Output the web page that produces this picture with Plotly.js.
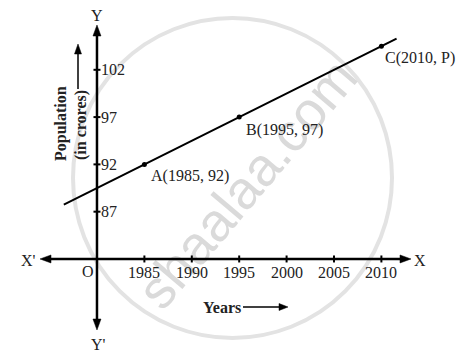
<!DOCTYPE html>
<html><head><meta charset="utf-8">
<script src="https://cdn.plot.ly/plotly-3.0.1.min.js"></script>
<style>html,body{margin:0;padding:0;background:#fff}</style>
</head><body><div id="chart" style="width:467px;height:358px"></div>
<script>
// ---- data ----
const xTicks = [1985, 1990, 1995, 2000, 2005, 2010];
const xTickLabels = ['1985', '1990', '1995', '2000', '2005', '2010'];
const yTicks = [87, 92, 97, 102];
const yTickLabels = ['87', '92', '97', '102'];
const pointYears = [1985, 1995, 2010];
const pointPops = [92, 97, 104.5];
const pointLabels = ['A(1985, 92)', 'B(1995, 97)', 'C(2010, P)'];
const lineYears = [1976.5, 2011.6];
const linePops = [87.75, 105.3];
const origin = [1980, 82];

// ---- geometry ----
const W = 467, H = 358;
const X0 = 1969.77, X1 = 2019.03, Y0 = 71.53, Y1 = 109.38;
const kx = W / (X1 - X0), ky = H / (Y1 - Y0);
const toPx = (x, y) => [(x - X0) * kx, (Y1 - y) * ky];
const toData = (px, py) => [X0 + px / kx, Y1 - py / ky];
const dx = px => px / kx, dy = py => py / ky;

const FONT = 'Liberation Serif, Times New Roman, serif';
const shapes = [];
const annotations = [];

// watermark (below everything)
shapes.push({type: 'circle', xref: 'paper', yref: 'paper', layer: 'below',
  x0: 73 / W, x1: 392 / W, y0: 1 - 338 / H, y1: 1 - 18 / H,
  line: {color: '#e3e3e3', width: 4}});
shapes.push({type: 'line', xref: 'paper', yref: 'paper', layer: 'below',
  x0: 140 / W, y0: 1 - 302 / H, x1: 346 / W, y1: 1 - 58 / H,
  line: {color: 'rgba(0,0,0,0)', width: 0},
  label: {text: 'shaalaa.com', textposition: 'middle', yanchor: 'middle', textangle: 'auto',
    font: {family: 'Liberation Sans, Arial, sans-serif', size: 54, color: '#dadada'}}});

function arrow(x0, y0, x1, y1, w, len, half) {
  const [p0x, p0y] = toPx(x0, y0), [p1x, p1y] = toPx(x1, y1);
  const L = Math.hypot(p1x - p0x, p1y - p0y);
  const ux = (p1x - p0x) / L, uy = (p1y - p0y) / L;
  const bx = p1x - ux * len, by = p1y - uy * len;
  const end = toData(bx + ux * 2, by + uy * 2);
  shapes.push({type: 'line', xref: 'x', yref: 'y', x0: x0, y0: y0, x1: end[0], y1: end[1],
    line: {color: '#000', width: w}});
  const a = toData(p1x, p1y), b = toData(bx - uy * half, by + ux * half), c = toData(bx + uy * half, by - ux * half);
  shapes.push({type: 'path', xref: 'x', yref: 'y',
    path: `M${a[0]},${a[1]} L${b[0]},${b[1]} L${c[0]},${c[1]} Z`,
    fillcolor: '#000', line: {color: '#000', width: 0.5}});
}

// axes
const [ox, oy] = origin;
arrow(ox, oy, toData(411, 0)[0], oy, 2.5, 11, 4);
arrow(ox, oy, toData(40, 0)[0], oy, 2.5, 11, 4);
arrow(ox, oy, ox, toData(0, 25)[1], 2.5, 11, 4);
arrow(ox, oy, ox, toData(0, 330)[1], 2.5, 11, 4);

// ticks
xTicks.forEach((t, i) => {
  shapes.push({type: 'line', xref: 'x', yref: 'y', x0: t, x1: t, y0: oy - dy(3.5), y1: oy + dy(3.5),
    line: {color: '#000', width: 2}});
  annotations.push({xref: 'x', yref: 'y', x: t, y: oy - dy(14), text: xTickLabels[i], showarrow: false,
    xanchor: 'center', yanchor: 'middle', font: {family: FONT, size: 16, color: '#222'}});
});
yTicks.forEach((t, i) => {
  shapes.push({type: 'line', xref: 'x', yref: 'y', x0: ox - dx(3.5), x1: ox + dx(3.5), y0: t, y1: t,
    line: {color: '#000', width: 2}});
  annotations.push({xref: 'x', yref: 'y', x: ox + dx(2), y: t, text: yTickLabels[i], showarrow: false,
    xanchor: 'left', yanchor: 'middle', font: {family: FONT, size: 16, color: '#222'}});
});

// point labels
const labelOffsets = [[5, 12], [5, 13], [2, 12]];
pointLabels.forEach((t, i) => {
  annotations.push({xref: 'x', yref: 'y', x: pointYears[i] + dx(labelOffsets[i][0]), y: pointPops[i] - dy(labelOffsets[i][1]),
    text: t, showarrow: false, xanchor: 'left', yanchor: 'middle', font: {family: FONT, size: 16, color: '#222'}});
});

// axis letters
const txt = (px, py, t, extra) => annotations.push(Object.assign({xref: 'paper', yref: 'paper', x: px / W, y: 1 - py / H,
  text: t, showarrow: false, xanchor: 'center', yanchor: 'middle', font: {family: FONT, size: 16, color: '#222'}}, extra || {}));
txt(28, 260, "X'");
txt(420, 260, 'X');
txt(97, 15, 'Y');
txt(98, 344, "Y'");
txt(88, 271, 'O');
txt(222, 307, '<b>Years</b>');
txt(61, 123, '<b>Population</b>', {textangle: -90});
txt(81, 125, '<b>(in crores)</b>', {textangle: -90});

// small label arrows
const ya = toData(243, 307), yb = toData(288, 307);
arrow(ya[0], ya[1], yb[0], yb[1], 1.5, 9, 3.5);
const pa = toData(78, 89), pb = toData(78, 44);
arrow(pa[0], pa[1], pb[0], pb[1], 1.5, 10, 3.5);

const traces = [
  {x: lineYears, y: linePops, mode: 'lines', line: {color: '#000', width: 2}, hoverinfo: 'skip'},
  {x: pointYears, y: pointPops, mode: 'markers', marker: {color: '#000', size: 5}, hoverinfo: 'skip'}
];

const layout = {
  width: W, height: H, margin: {l: 0, r: 0, t: 0, b: 0},
  paper_bgcolor: '#fff', plot_bgcolor: '#fff', showlegend: false,
  xaxis: {range: [X0, X1], visible: false, fixedrange: true},
  yaxis: {range: [Y0, Y1], visible: false, fixedrange: true},
  shapes: shapes, annotations: annotations
};
Plotly.newPlot('chart', traces, layout, {displayModeBar: false, staticPlot: true});
</script></body></html>
